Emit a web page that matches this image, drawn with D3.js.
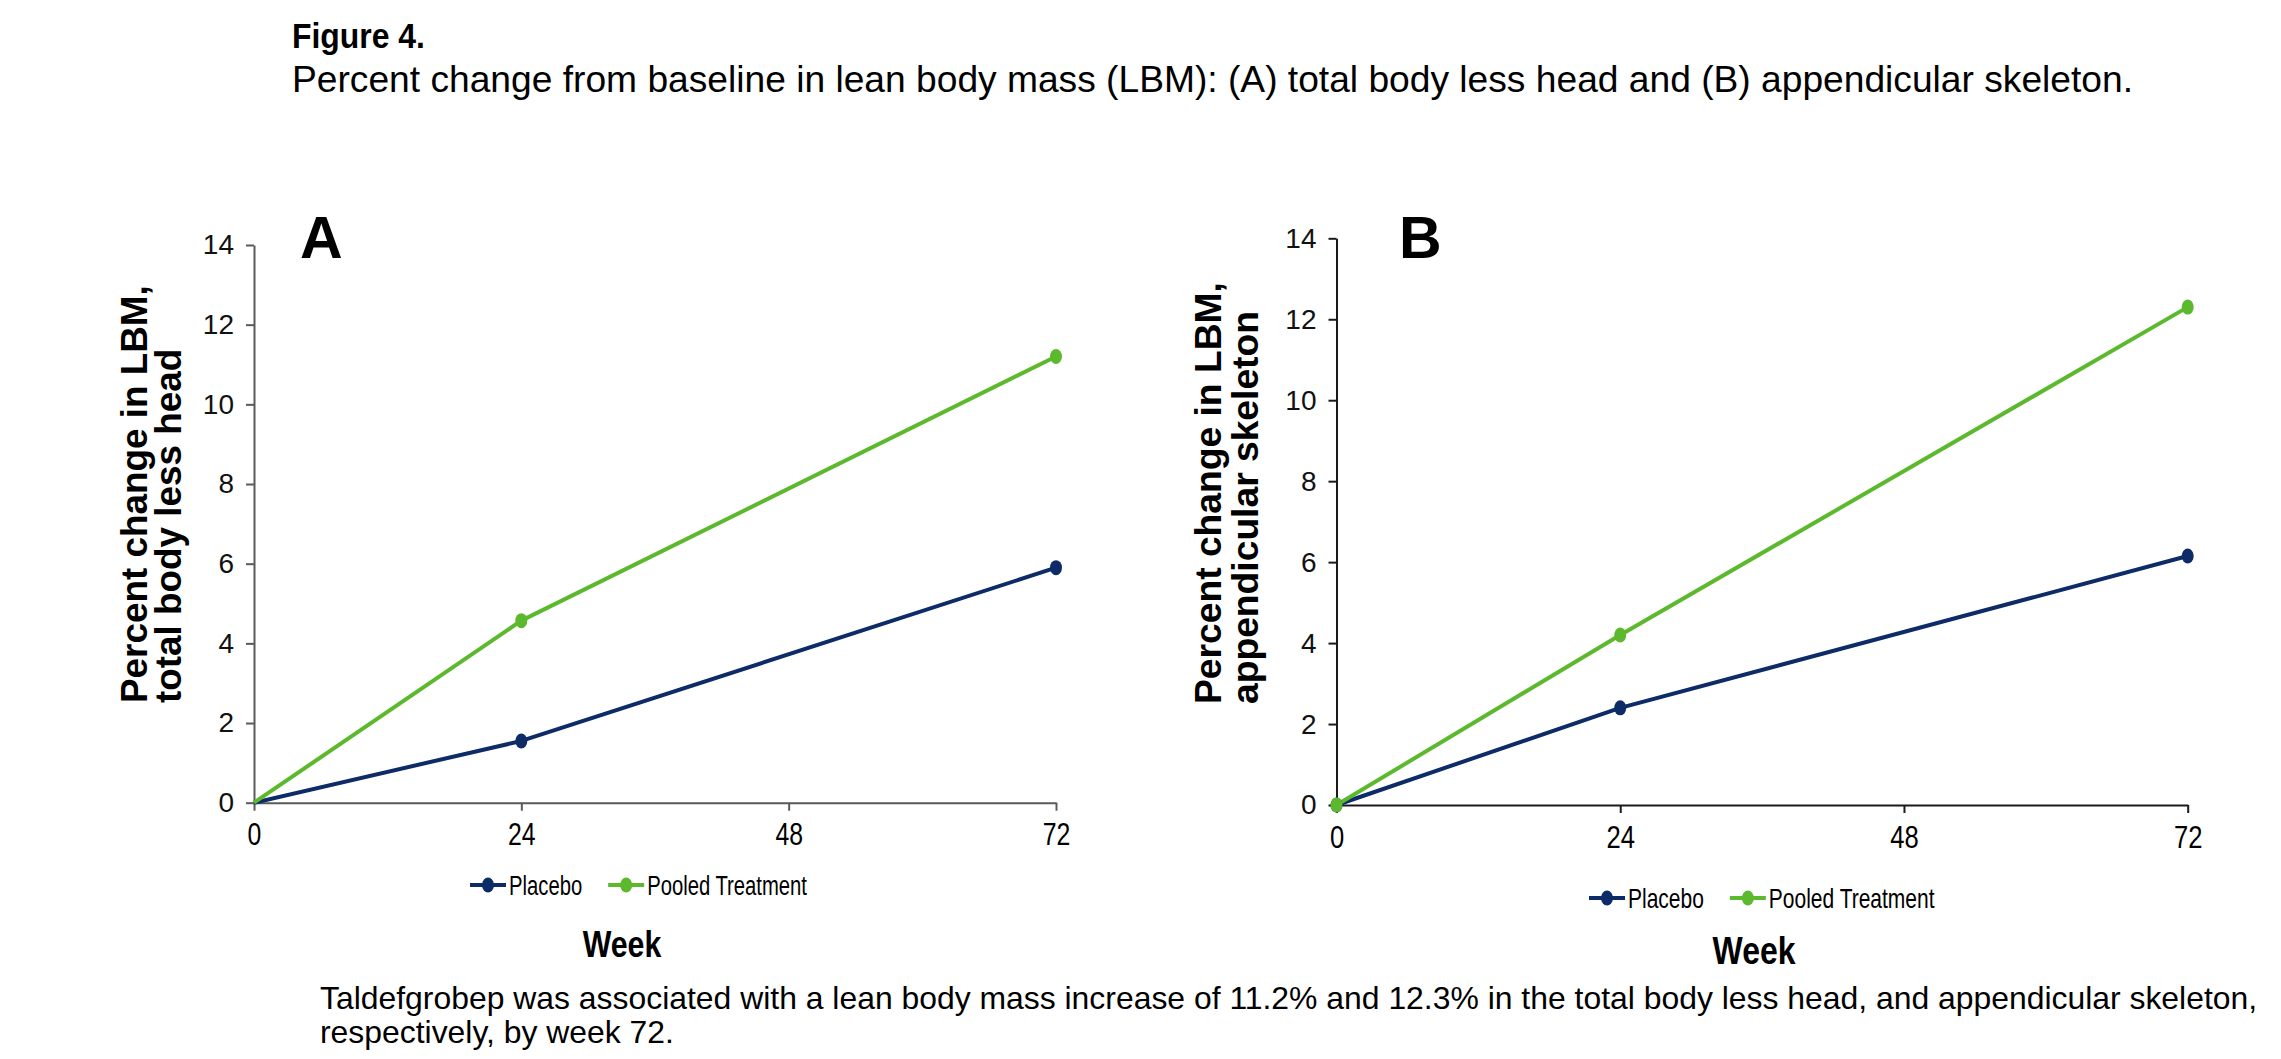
<!DOCTYPE html>
<html>
<head>
<meta charset="utf-8">
<script src="https://cdn.jsdelivr.net/npm/d3@7"></script>
<style>
  html, body { margin: 0; padding: 0; background: #fff; }
  svg text { font-family: "Liberation Sans", Arial, sans-serif; }
</style>
</head>
<body>
<svg id="chart" width="2281" height="1059"></svg>
<script>
// ---------------- data ----------------
const weeks = [0, 24, 72];
const xTicks = [0, 24, 48, 72];
const yTicks = [0, 2, 4, 6, 8, 10, 12, 14];
const seriesNames = ["Placebo", "Pooled Treatment"];
const placeboA = [0, 1.55, 5.9];
const treatmentA = [0, 4.57, 11.2];
const placeboB = [0, 2.4, 6.15];
const treatmentB = [0, 4.2, 12.3];
const yTitleA = ["Percent change in LBM,", "total body less head"];
const yTitleB = ["Percent change in LBM,", "appendicular skeleton"];
const xTitle = "Week";
const figTitle = "Figure 4.";
const figSubtitle = "Percent change from baseline in lean body mass (LBM): (A) total body less head and (B) appendicular skeleton.";
const caption = [
  "Taldefgrobep was associated with a lean body mass increase of 11.2% and 12.3% in the total body less head, and appendicular skeleton,",
  "respectively, by week 72."
];

const colors = ["#0c2b67", "#5cb92e"];
const svg = d3.select("#chart");

function fitText(sel, width) {
  const w = sel.node().getComputedTextLength();
  const fs = parseFloat(sel.attr("font-size"));
  sel.attr("font-size", (fs * width / w).toFixed(2));
}

// titles: "Figure 4." slightly condensed, taller bold
const ft = svg.append("text").attr("font-size", 35)
  .attr("font-weight", "bold").attr("fill", "#000").text(figTitle);
const ftw = ft.node().getComputedTextLength();
ft.attr("transform", `translate(292,48) scale(${(133 / ftw).toFixed(3)},1)`);

const sub = svg.append("text").attr("x", 292).attr("y", 92).attr("font-size", 30)
  .attr("fill", "#000").text(figSubtitle);
fitText(sub, 1842);

const cap1 = svg.append("text").attr("x", 320).attr("y", 1009).attr("font-size", 25)
  .attr("fill", "#000").text(caption[0]);
fitText(cap1, 1938);
svg.append("text").attr("x", 320).attr("y", 1043).attr("font-size", cap1.attr("font-size"))
  .attr("fill", "#000").text(caption[1]);

const panels = [
  { letter: "A", placebo: placeboA, treatment: treatmentA, yTitle: yTitleA,
    x0: 254, x1: 1056, y0: 802.7, y1: 245, axisColor: "#5a5a5a", zeroMarker: false,
    letterX: 300, letterY: 258, titleX: [147, 181], titleY: 703, titleLen: 418,
    legX: 470, legY: 885, legFont: 27, weekX: 622, weekY: 957, weekFont: 37, tickFont: 31 },
  { letter: "B", placebo: placeboB, treatment: treatmentB, yTitle: yTitleB,
    x0: 1336.5, x1: 2187.7, y0: 805, y1: 238.3, axisColor: "#1a1a1a", zeroMarker: true,
    letterX: 1399, letterY: 258, titleX: [1221, 1258], titleY: 704, titleLen: 422,
    legX: 1589, legY: 898, legFont: 28, weekX: 1754, weekY: 964, weekFont: 39, tickFont: 32 }
];

panels.forEach(p => {
  const g = svg.append("g");
  const x = d3.scaleLinear().domain([0, 72]).range([p.x0, p.x1]);
  const y = d3.scaleLinear().domain([0, 14]).range([p.y0, p.y1]);

  const ya = g.append("g").attr("transform", `translate(${p.x0},0)`)
    .call(d3.axisLeft(y).tickValues(yTicks).tickSize(8).tickSizeOuter(0).tickPadding(12).tickFormat(d3.format("d")));
  ya.selectAll("path, line").attr("stroke", p.axisColor).attr("stroke-width", 2);
  ya.selectAll("text").attr("font-size", 28).attr("fill", "#111")
    .attr("font-family", "'Liberation Sans', Arial, sans-serif");

  const xa = g.append("g").attr("transform", `translate(0,${p.y0})`)
    .call(d3.axisBottom(x).tickValues(xTicks).tickSize(8).tickSizeOuter(0).tickPadding(12).tickFormat(d3.format("d")));
  xa.selectAll("path, line").attr("stroke", p.axisColor).attr("stroke-width", 2);
  xa.selectAll("text").attr("font-size", p.tickFont).attr("fill", "#000")
    .attr("font-family", "'Liberation Sans', Arial, sans-serif")
    .attr("transform", "scale(0.8,1)");

  const series = [p.placebo, p.treatment];
  const line = d3.line().x((d, i) => x(weeks[i])).y(d => y(d));
  series.forEach((vals, si) => {
    g.append("path").datum(vals).attr("d", line).attr("fill", "none")
      .attr("stroke", colors[si]).attr("stroke-width", 4).attr("stroke-linejoin", "round");
  });
  series.forEach((vals, si) => {
    g.selectAll(null).data(vals.map((v, i) => ({ v, w: weeks[i] })).filter(d => p.zeroMarker || d.w !== 0))
      .enter().append("ellipse")
      .attr("cx", d => x(d.w)).attr("cy", d => y(d.v))
      .attr("rx", 6).attr("ry", 7.5).attr("fill", colors[si]);
  });

  g.append("text").attr("x", p.letterX).attr("y", p.letterY).attr("font-size", 59)
    .attr("font-weight", "bold").attr("fill", "#000").text(p.letter);

  let titleFs = null;
  p.yTitle.forEach((t, i) => {
    const tt = g.append("text")
      .attr("transform", `translate(${p.titleX[i]},${p.titleY}) rotate(-90)`)
      .attr("font-size", 37).attr("font-weight", "bold").attr("fill", "#000")
      .attr("text-anchor", "start").text(t);
    if (i === 0) { fitText(tt, p.titleLen); titleFs = tt.attr("font-size"); }
    else tt.attr("font-size", titleFs);
  });

  let lx = p.legX;
  const sx = 0.75;
  seriesNames.forEach((name, si) => {
    const mk = 36;
    g.append("line").attr("x1", lx).attr("x2", lx + mk).attr("y1", p.legY).attr("y2", p.legY)
      .attr("stroke", colors[si]).attr("stroke-width", 4);
    g.append("ellipse").attr("cx", lx + mk / 2).attr("cy", p.legY).attr("rx", 6).attr("ry", 7.5)
      .attr("fill", colors[si]);
    const tx = lx + mk + 3;
    const t = g.append("text").attr("transform", `translate(${tx},${p.legY}) scale(${sx},1)`)
      .attr("dy", "0.36em").attr("font-size", p.legFont).attr("fill", "#000").text(name);
    lx = tx + t.node().getComputedTextLength() * sx + 26;
  });

  g.append("text").attr("transform", `translate(${p.weekX},${p.weekY}) scale(0.82,1)`)
    .attr("text-anchor", "middle").attr("font-size", p.weekFont).attr("font-weight", "bold")
    .attr("fill", "#000").text(xTitle);
});
</script>
</body>
</html>
